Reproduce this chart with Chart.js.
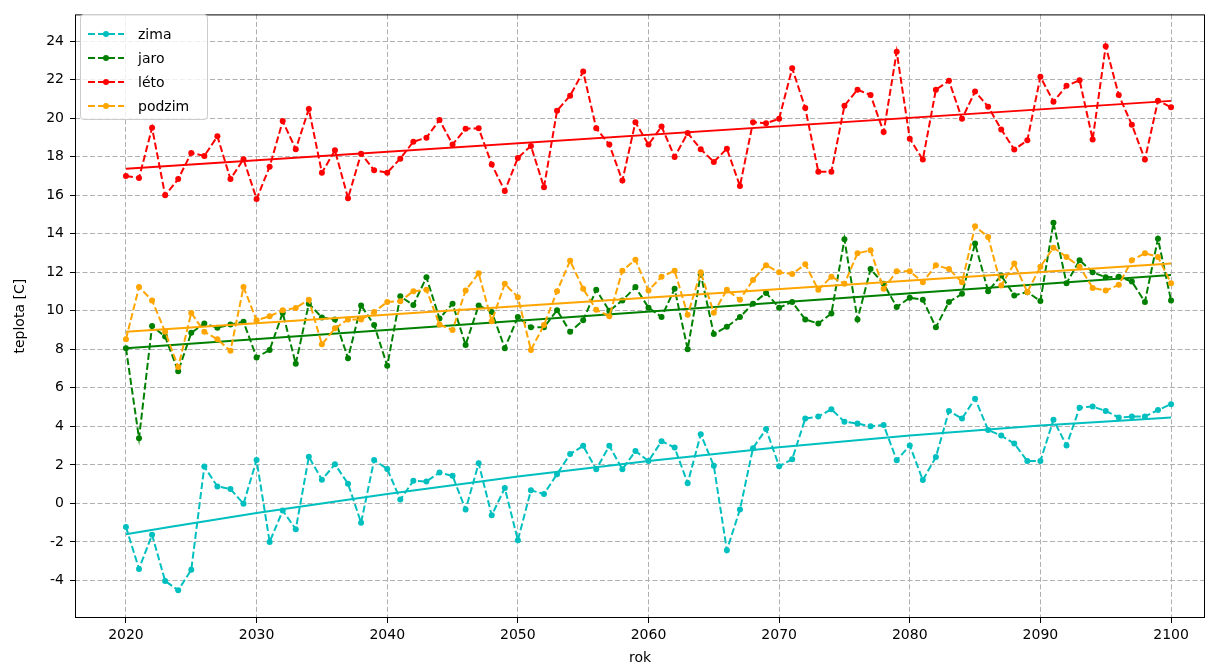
<!DOCTYPE html>
<html>
<head>
<meta charset="utf-8">
<title>teplota</title>
<script src="https://cdn.jsdelivr.net/npm/chart.js@4.4.0/dist/chart.umd.min.js"></script>
<style>
  html, body { margin: 0; padding: 0; background: #fff; overflow: hidden; }
  #wrap { position: relative; width: 1210px; height: 680px; }
  #legend {
    position: absolute; left: 80px; top: 14px; width: 128px; height: 106px;
    box-sizing: border-box; border: 1px solid #cccccc; border-radius: 4px;
    background: rgba(255, 255, 255, 0.8); padding-top: 7px;
    font-family: "DejaVu Sans", sans-serif; font-size: 14px; color: #000;
  }
  .item { position: relative; height: 24px; }
  .item canvas { position: absolute; left: 7px; top: 6px; }
  .item span { position: absolute; left: 57px; top: 3px; line-height: 18px; }
</style>
</head>
<body>
<div id="wrap">
  <canvas id="chart"></canvas>
  <div id="legend"></div>
</div>
<script>
// roky 2020..2100
const years = [];
for (let y = 2020; y <= 2100; y++) years.push(y);

const xTicks = [2020, 2030, 2040, 2050, 2060, 2070, 2080, 2090, 2100];
const yTicks = [-4, -2, 0, 2, 4, 6, 8, 10, 12, 14, 16, 18, 20, 22, 24];

const zima = [
  -1.22, -3.4, -1.63, -4.03, -4.51, -3.45, 1.91, 0.88, 0.75, -0.02,
  2.25, -2.0, -0.37, -1.34, 2.42, 1.23, 2.03, 1.02, -1.0, 2.25,
  1.79, 0.2, 1.17, 1.14, 1.6, 1.43, -0.32, 2.08, -0.62, 0.8,
  -1.91, 0.68, 0.49, 1.52, 2.56, 2.99, 1.77, 2.99, 1.77, 2.72,
  2.2, 3.23, 2.9, 1.05, 3.59, 1.95, -2.43, -0.32, 2.87, 3.86,
  1.93, 2.29, 4.41, 4.51, 4.89, 4.24, 4.15, 4.0, 4.07, 2.24,
  3.01, 1.21, 2.41, 4.8, 4.41, 5.44, 3.81, 3.52, 3.11, 2.2,
  2.2, 4.34, 3.01, 4.97, 5.03, 4.8, 4.46, 4.51, 4.51, 4.85,
  5.15
];
const jaro = [
  8.06, 3.38, 9.21, 8.66, 6.86, 8.86, 9.34, 9.12, 9.29, 9.43,
  7.58, 7.97, 9.89, 7.25, 10.37, 9.65, 9.55, 7.54, 10.28, 9.26,
  7.15, 10.75, 10.3, 11.74, 9.6, 10.37, 8.23, 10.28, 9.94, 8.06,
  9.68, 9.14, 9.14, 10.03, 8.91, 9.51, 11.09, 10.0, 10.54, 11.23,
  10.16, 9.68, 11.14, 8.01, 11.9, 8.79, 9.17, 9.68, 10.37, 10.93,
  10.16, 10.46, 9.55, 9.34, 9.86, 13.71, 9.55, 12.17, 11.4, 10.2,
  10.68, 10.58, 9.14, 10.46, 10.88, 13.49, 11.02, 11.83, 10.8, 10.97,
  10.51, 14.57, 11.43, 12.63, 12.0, 11.74, 11.77, 11.52, 10.46, 13.74,
  10.54
];
const leto = [
  17.0, 16.9, 19.5, 16.0, 16.84, 18.2, 18.04, 19.06, 16.84, 17.87,
  15.81, 17.48, 19.85, 18.39, 20.48, 17.17, 18.33, 15.85, 18.16, 17.3,
  17.17, 17.9, 18.78, 18.99, 19.91, 18.64, 19.45, 19.48, 17.6, 16.22,
  17.94, 18.56, 16.41, 20.39, 21.17, 22.42, 19.48, 18.63, 16.76, 19.79,
  18.63, 19.57, 17.99, 19.23, 18.39, 17.73, 18.42, 16.48, 19.79, 19.74,
  19.97, 22.59, 20.53, 17.22, 17.22, 20.65, 21.48, 21.2, 19.28, 23.45,
  18.94, 17.85, 21.48, 21.94, 19.97, 21.39, 20.6, 19.42, 18.37, 18.85,
  22.15, 20.86, 21.68, 21.97, 18.9, 23.74, 21.2, 19.66, 17.85, 20.91,
  20.57
];
const podzim = [
  8.52, 11.23, 10.54, 8.91, 7.08, 9.89, 8.91, 8.52, 7.92, 11.23,
  9.51, 9.72, 10.03, 10.15, 10.58, 8.26, 9.09, 9.55, 9.55, 9.94,
  10.46, 10.5, 11.02, 11.09, 9.29, 9.0, 11.05, 11.95, 9.46, 11.4,
  10.71, 7.97, 9.26, 11.02, 12.6, 11.14, 10.06, 9.72, 12.08, 12.65,
  11.05, 11.77, 12.08, 9.8, 12.0, 9.9, 11.09, 10.58, 11.6, 12.37,
  12.0, 11.91, 12.42, 11.09, 11.77, 11.4, 12.99, 13.14, 11.14, 12.05,
  12.05, 11.48, 12.37, 12.17, 11.48, 14.39, 13.83, 11.31, 12.46, 10.97,
  12.29, 13.28, 12.8, 12.29, 11.19, 11.05, 11.35, 12.63, 12.99, 12.8,
  11.43
];

// trendy
const trendEnds = [2020, 2100];
const letoTrend = [17.37, 20.9];
const jaroTrend = [8.06, 11.86];
const podzimTrend = [8.91, 12.46];
const zimaTrendYears = [2020, 2030, 2040, 2050, 2060, 2070, 2080, 2090, 2100];
const zimaTrend = [-1.6, -0.5, 0.49, 1.4, 2.2, 2.91, 3.53, 4.04, 4.46];

const seriesNames = ['zima', 'jaro', 'léto', 'podzim'];
const seriesColors = ['#00bfbf', '#008000', '#ff0000', '#ffa500'];

function pts(xs, ys) {
  return xs.map((x, i) => ({ x: x, y: ys[i] }));
}

function dataSeries(label, color, values, order) {
  return {
    label: label, data: pts(years, values),
    borderColor: color, backgroundColor: color,
    borderWidth: 2, borderDash: [7, 3],
    pointRadius: 3, pointHoverRadius: 3, pointBorderWidth: 0,
    order: order
  };
}
function trendSeries(label, color, xs, values, order) {
  return {
    label: label, data: pts(xs, values),
    borderColor: color, backgroundColor: color,
    borderWidth: 2, pointRadius: 0, cubicInterpolationMode: 'monotone',
    order: order
  };
}

const font = { family: '"DejaVu Sans", sans-serif', size: 14 };

// ramecek kolem plochy grafu
const framePlugin = {
  id: 'frame',
  afterDraw(chart) {
    const a = chart.chartArea, ctx = chart.ctx;
    ctx.save();
    ctx.strokeStyle = '#000';
    ctx.lineWidth = 1;
    ctx.strokeRect(a.left + 0.5, a.top + 0.5, a.right - a.left - 1, a.bottom - a.top - 1);
    ctx.restore();
  }
};

const gridOpts = {
  color: '#b0b0b0', lineWidth: 1,
  tickLength: 5, tickColor: '#000', tickWidth: 1, tickBorderDash: []
};
const borderOpts = { display: false, dash: [5, 2.5] };

new Chart(document.getElementById('chart'), {
  type: 'line',
  data: {
    datasets: [
      dataSeries('zima', seriesColors[0], zima, 8),
      trendSeries('zima trend', seriesColors[0], zimaTrendYears, zimaTrend, 7),
      dataSeries('jaro', seriesColors[1], jaro, 6),
      trendSeries('jaro trend', seriesColors[1], trendEnds, jaroTrend, 5),
      dataSeries('léto', seriesColors[2], leto, 4),
      trendSeries('léto trend', seriesColors[2], trendEnds, letoTrend, 3),
      dataSeries('podzim', seriesColors[3], podzim, 2),
      trendSeries('podzim trend', seriesColors[3], trendEnds, podzimTrend, 1)
    ]
  },
  options: {
    responsive: true,
    maintainAspectRatio: false,
    animation: false,
    layout: { padding: { top: 8, right: 5, left: 0, bottom: 0 } },
    plugins: { legend: { display: false }, tooltip: { enabled: false } },
    scales: {
      x: {
        type: 'linear', min: 2016.1, max: 2102.6,
        afterBuildTicks: s => { s.ticks = xTicks.map(v => ({ value: v })); },
        afterFit: s => { s.height = 62; },
        ticks: { font: font, color: '#000', padding: 4, maxRotation: 0, callback: v => String(v) },
        grid: gridOpts, border: borderOpts,
        title: { display: true, text: 'rok', font: font, color: '#000', padding: { top: 0, bottom: 13.6 } }
      },
      y: {
        type: 'linear', min: -5.95, max: 25.39,
        afterBuildTicks: s => { s.ticks = yTicks.map(v => ({ value: v })); },
        afterFit: s => { s.width = 75; },
        ticks: { font: font, color: '#000', padding: 6, callback: v => String(v) },
        grid: gridOpts, border: borderOpts,
        title: { display: true, text: 'teplota [C]', font: font, color: '#000', padding: { top: 11.6, bottom: 0 } }
      }
    }
  },
  plugins: [framePlugin]
});

// legenda jen pro datove rady
const legendEl = document.getElementById('legend');
seriesNames.forEach((name, i) => {
  const row = document.createElement('div');
  row.className = 'item';
  const c = document.createElement('canvas');
  c.width = 36; c.height = 12;
  const g = c.getContext('2d');
  g.strokeStyle = seriesColors[i];
  g.fillStyle = seriesColors[i];
  g.lineWidth = 2;
  g.setLineDash([7, 3]);
  g.beginPath(); g.moveTo(0, 6); g.lineTo(36, 6); g.stroke();
  g.beginPath(); g.arc(18, 6, 3, 0, Math.PI * 2); g.fill();
  const t = document.createElement('span');
  t.textContent = name;
  row.appendChild(c);
  row.appendChild(t);
  legendEl.appendChild(row);
});
</script>
</body>
</html>
